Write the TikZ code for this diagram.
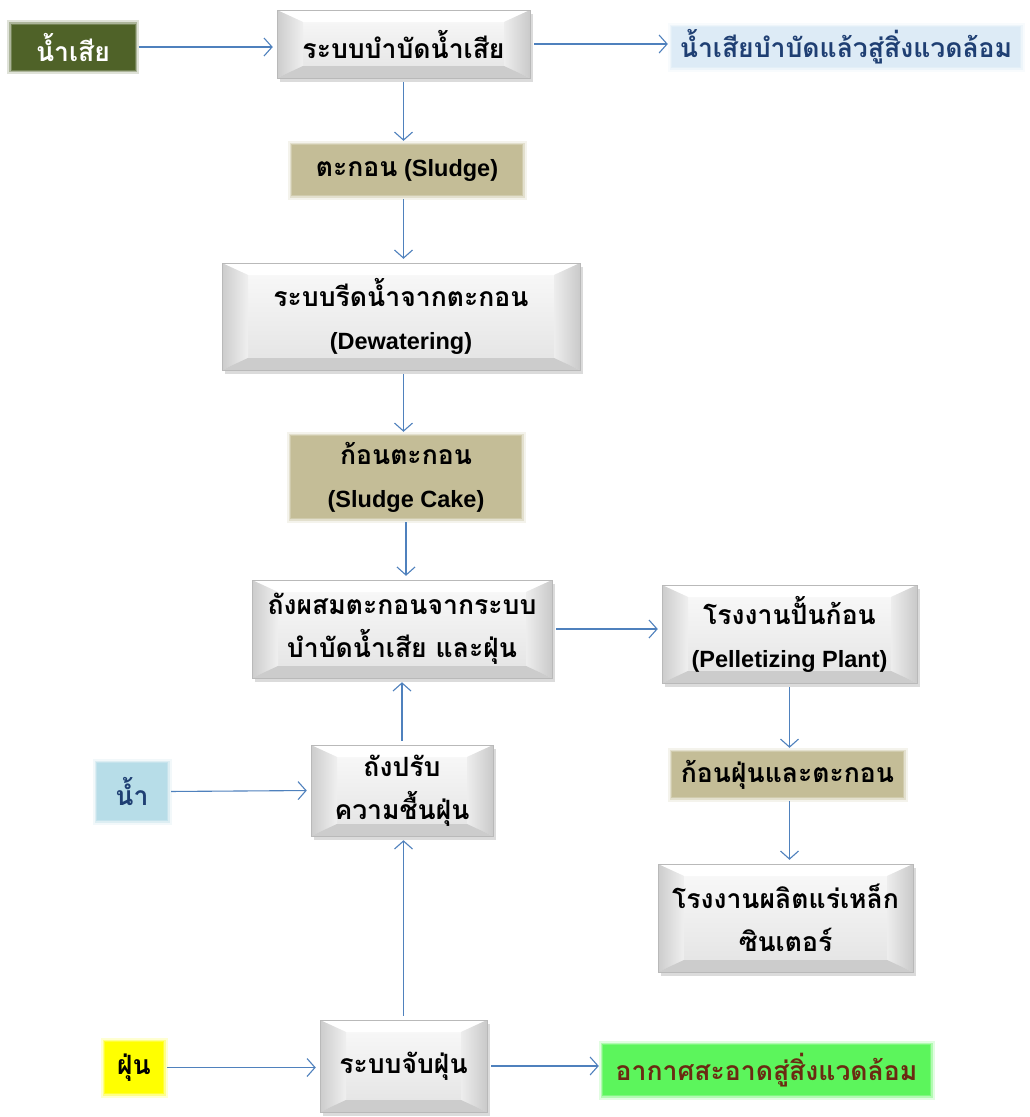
\documentclass[tikz,border=0pt]{standalone}
\usepackage{fontspec}
\setmainfont{Liberation Sans}
\newfontfamily\thai[Script=Thai,Scale=1.13]{Loma}
\usetikzlibrary{arrows.meta,shadows,calc}
\definecolor{arrowblue}{HTML}{4F81BD}
\definecolor{olivebox}{HTML}{4F6228}
\definecolor{skybox}{HTML}{DDEBF6}
\definecolor{navytext}{HTML}{1F3F73}
\definecolor{tanbox}{HTML}{C4BD97}
\definecolor{waterbox}{HTML}{B7DDE8}
\definecolor{yellowbox}{HTML}{FFFF00}
\definecolor{greenbox}{HTML}{5CF55C}
\definecolor{airtext}{HTML}{6B2A12}
\newlength{\bvx}\setlength{\bvx}{26pt}
\newlength{\bvy}\setlength{\bvy}{12pt}
\tikzset{
  flow/.style={draw=arrowblue, line width=1.1pt, -{Straight Barb[length=8pt,width=18pt,line width=1.1pt]}, shorten >=4pt, shorten <=4pt},
  bevelbox/.style={rectangle, draw=gray!55, line width=0.5pt, inner sep=0pt, align=center,
    top color=gray!4, bottom color=gray!22, font=\fontsize{23.5}{43}\selectfont\bfseries,
    drop shadow={shadow xshift=3pt, shadow yshift=-4pt, opacity=0.35, fill=gray!80},
    path picture={
      \path (path picture bounding box.north west) coordinate (pnw)
            (path picture bounding box.south east) coordinate (pse);
      \fill[white] (pnw) -- (pnw -| pse) -- ([xshift=-\bvx,yshift=-\bvy]pnw -| pse) -- ([xshift=\bvx,yshift=-\bvy]pnw) -- cycle;
      \shade[left color=gray!40, right color=gray!12] (pnw) -- ([xshift=\bvx,yshift=-\bvy]pnw) -- ([xshift=\bvx,yshift=\bvy]pnw |- pse) -- (pnw |- pse) -- cycle;
      \shade[left color=gray!14, right color=gray!42] (pnw -| pse) -- (pse) -- ([xshift=-\bvx,yshift=\bvy]pse) -- ([xshift=-\bvx,yshift=-\bvy]pnw -| pse) -- cycle;
      \fill[gray!40] (pnw |- pse) -- ([xshift=\bvx,yshift=\bvy]pnw |- pse) -- ([xshift=-\bvx,yshift=\bvy]pse) -- (pse) -- cycle;
    }},
  glowbox/.style={rectangle, inner sep=0pt, align=center, fill=#1,
    preaction={draw=#1, line width=9pt, opacity=0.18},
    preaction={draw=#1, line width=5pt, opacity=0.35},
    preaction={draw=#1, line width=2pt, opacity=0.6},
    font=\fontsize{23.5}{43}\selectfont\bfseries},
}
\begin{document}
\begin{tikzpicture}[x=1pt,y=-1pt]
\useasboundingbox (0,0) rectangle (1029,1117);
\fill[white] (0,0) rectangle (1029,1117);

% top row
\node[glowbox=olivebox, minimum width=123pt, minimum height=45pt, text=white] (ww) at (73,47) {\thai น้ำเสีย};
\node[bevelbox, minimum width=253pt, minimum height=68pt] (wts) at (403.5,44) {\thai ระบบบำบัดน้ำเสีย};
\node[glowbox=skybox, minimum width=348pt, minimum height=40pt, text=navytext] (env) at (846,47) {\thai น้ำเสียบำบัดแล้วสู่สิ่งแวดล้อม};

% sludge chain
\node[glowbox=tanbox, minimum width=230pt, minimum height=50pt] (sludge) at (407,170) {{\thai ตะกอน} (Sludge)};
\node[bevelbox, minimum width=358pt, minimum height=107pt] (dew) at (401,316.5) {\thai ระบบรีดน้ำจากตะกอน\\(Dewatering)};
\node[glowbox=tanbox, minimum width=230pt, minimum height=82pt] (cake) at (406,477) {\thai ก้อนตะกอน\\(Sludge Cake)};
\node[bevelbox, minimum width=300pt, minimum height=98pt] (mix) at (402,629) {\thai ถังผสมตะกอนจากระบบ\\\thai บำบัดน้ำเสีย และฝุ่น};

% right column
\node[bevelbox, minimum width=255pt, minimum height=98pt] (pel) at (789.5,634) {\thai โรงงานปั้นก้อน\\(Pelletizing Plant)};
\node[glowbox=tanbox, minimum width=231pt, minimum height=45pt] (lump) at (787.5,774.5) {\thai ก้อนฝุ่นและตะกอน};
\node[bevelbox, minimum width=255pt, minimum height=108pt] (sinter) at (785.5,918) {\thai โรงงานผลิตแร่เหล็ก\\\thai ซินเตอร์};

% dust branch
\node[bevelbox, minimum width=182pt, minimum height=91pt] (adj) at (402,790.5) {\thai ถังปรับ\\\thai ความชื้นฝุ่น};
\node[glowbox=waterbox, minimum width=70pt, minimum height=57pt, text=navytext] (water) at (132,791.5) {\thai น้ำ};
\node[glowbox=yellowbox, minimum width=58pt, minimum height=51pt] (dust) at (134,1067.5) {\thai ฝุ่น};
\node[bevelbox, minimum width=167pt, minimum height=92pt] (dsys) at (403.5,1066) {\thai ระบบจับฝุ่น};
\node[glowbox=greenbox, minimum width=327pt, minimum height=50pt, text=airtext] (air) at (766.5,1070) {\thai อากาศสะอาดสู่สิ่งแวดล้อม};

% connectors
\draw[flow] (ww.east) -- (ww.east -| wts.west);
\draw[flow] (wts.east) -- (wts.east -| env.west);
\draw[flow] (wts.south) -- (wts.south |- sludge.north);
\draw[flow] (wts.south |- sludge.south) -- (wts.south |- dew.north);
\draw[flow] (wts.south |- dew.south) -- (wts.south |- cake.north);
\draw[flow] (cake.south) -- (cake.south |- mix.north);
\draw[flow] (mix.east) -- (mix.east -| pel.west);
\draw[flow] (pel.south) -- (pel.south |- lump.north);
\draw[flow] (pel.south |- lump.south) -- (pel.south |- sinter.north);
\draw[flow] (adj.north) -- (adj.north |- mix.south);
\draw[flow] (water.east) -- (adj.west);
\draw[flow] (dsys.north) -- (dsys.north |- adj.south);
\draw[flow] (dust.east) -- (dust.east -| dsys.west);
\draw[flow] (dsys.east) -- (dsys.east -| air.west);
\end{tikzpicture}
\end{document}
